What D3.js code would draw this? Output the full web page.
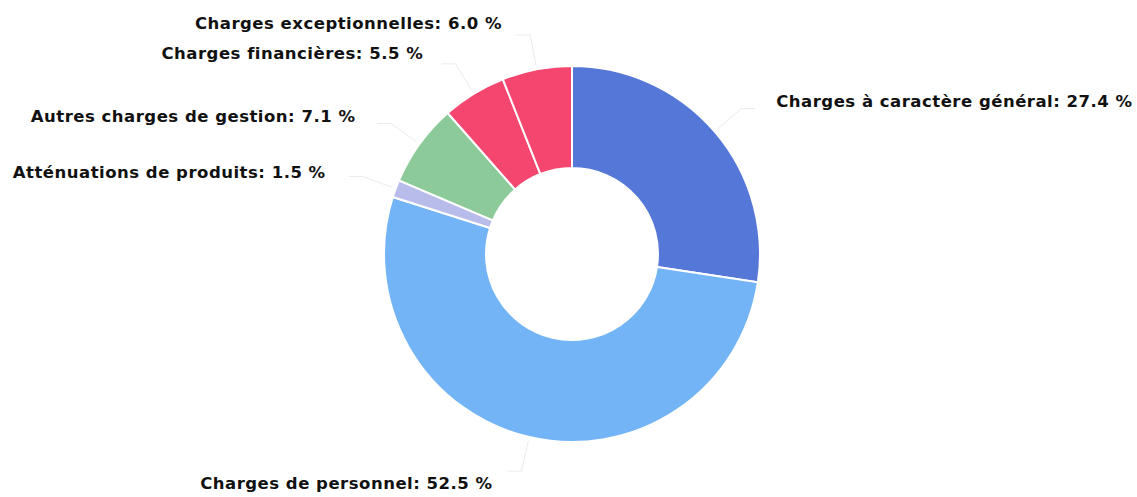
<!DOCTYPE html>
<html>
<head>
<meta charset="utf-8">
<script src="https://cdn.jsdelivr.net/npm/d3@7"></script>
<style>
  body { margin: 0; background: #fff; }
  text { font-family: "DejaVu Sans", Verdana, sans-serif; font-weight: bold; font-size: 16.5px; letter-spacing: 0.5px; fill: #111; }
</style>
</head>
<body>
<svg id="chart" width="1137" height="497"></svg>
<script>
// Répartition des charges (%)
const categories = [
  "Charges à caractère général",
  "Charges de personnel",
  "Atténuations de produits",
  "Autres charges de gestion",
  "Charges financières",
  "Charges exceptionnelles"
];
const values = [27.4, 52.5, 1.5, 7.1, 5.5, 6.0];
const colors = ["#5577d8", "#72b4f5", "#b8bcea", "#8ccb99", "#f4466f", "#f4466f"];

const svg = d3.select("#chart");
const cx = 572, cy = 254;
const outerR = 188, innerR = 86, labelR = 235;

const data = categories.map((c, i) => ({ name: c, value: values[i], color: colors[i] }));

const pie = d3.pie().sort(null).value((d) => d.value);
const arcs = pie(data);

const arc = d3.arc().innerRadius(innerR).outerRadius(outerR);

const g = svg.append("g").attr("transform", `translate(${cx},${cy})`);

// Secteurs
g.selectAll("path.slice")
  .data(arcs)
  .enter()
  .append("path")
  .attr("class", "slice")
  .attr("d", arc)
  .attr("fill", (d) => d.data.color)
  .attr("stroke", "#fff")
  .attr("stroke-width", 2);

// Position des étiquettes
const mid = (d) => (d.startAngle + d.endAngle) / 2;
const pos = (d, r) => [r * Math.sin(mid(d)), -r * Math.cos(mid(d))];

// Traits de liaison (très pâles)
g.selectAll("polyline.conn")
  .data(arcs)
  .enter()
  .append("polyline")
  .attr("class", "conn")
  .attr("fill", "none")
  .attr("stroke", "#ebebeb")
  .attr("stroke-width", 1)
  .attr("points", (d) => {
    const a = pos(d, outerR + 4);
    const b = pos(d, labelR - 12);
    const right = Math.sin(mid(d)) >= 0;
    const c = [b[0] + (right ? 14 : -14), b[1]];
    return [a, b, c].map((p) => p.join(",")).join(" ");
  });

// Étiquettes
g.selectAll("text.label")
  .data(arcs)
  .enter()
  .append("text")
  .attr("class", "label")
  .attr("x", (d) => {
    const p = pos(d, labelR);
    return Math.sin(mid(d)) >= 0 ? p[0] + 26 : p[0] - 26;
  })
  .attr("y", (d) => pos(d, labelR)[1])
  .attr("dy", "0.35em")
  .attr("text-anchor", (d) => (Math.sin(mid(d)) >= 0 ? "start" : "end"))
  .text((d) => `${d.data.name}: ${d.data.value.toFixed(1)} %`);
</script>
</body>
</html>
